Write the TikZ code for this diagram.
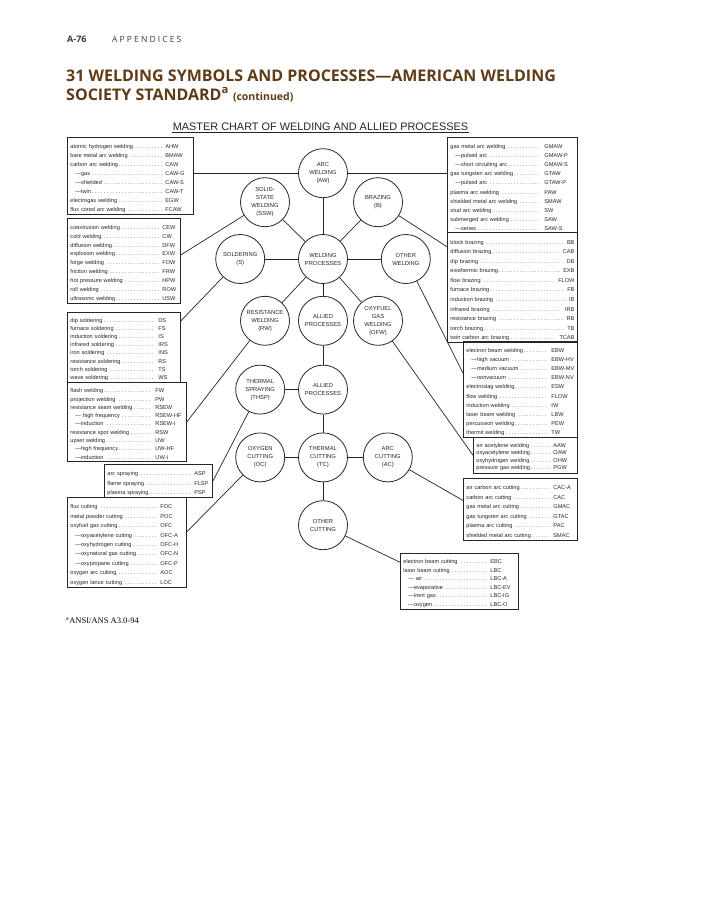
\documentclass[tikz,border=0pt]{standalone}
\usepackage{fontspec}
\setmainfont{Liberation Serif}
\newfontfamily\chartfont{Liberation Sans}
\newfontfamily\headfont{Open Sans}
\newfontfamily\spacedfont[LetterSpace=25]{Open Sans}
\usetikzlibrary{positioning}
\definecolor{titlebrown}{HTML}{5F3B17}
\definecolor{ink}{HTML}{262626}
\definecolor{headgray}{HTML}{3A3A3A}

\newlength\codew
\newcommand\leaderdots{\leaders\hbox to 3pt{\hss.\hss}\hfill}
\newcommand\ent[2]{\par\noindent\hbox to\hsize{#1\leaderdots\hskip1.5pt\hbox to\codew{#2\hss}}\par}
\newcommand\rent[2]{\par\noindent\hbox to\hsize{#1\leaderdots\hskip1.5pt#2}\par}
\newcommand\subent{\hspace*{5pt}\textemdash}

\tikzset{
  proc/.style={circle, draw=ink, line width=0.8pt, minimum size=49pt,
    inner sep=0pt, align=center, text=ink,
    font=\chartfont\fontsize{5.8}{8}\selectfont},
  listbox/.style n args={3}{rectangle, draw=ink, line width=0.9pt,
    anchor=north west, inner xsep=3pt, inner ysep=2pt, text width=#1,
    align=left, text=ink, font={\chartfont\fontsize{5.6}{#2}\selectfont},
    execute at begin node={\setlength\codew{#3}}},
  link/.style={draw=ink, line width=0.7pt},
}

\begin{document}
\begin{tikzpicture}[x=1pt, y=-1pt]
  \path[use as bounding box, fill=white] (0,0) rectangle (702,900);

  % page head
  \node[anchor=base west, inner sep=0pt, text=headgray, font=\headfont\bfseries\fontsize{9}{11}\selectfont] (pagenum) at (67,42) {A-76};
  \node[anchor=base west, inner sep=0pt, text=headgray, font=\spacedfont\fontsize{8.5}{11}\selectfont] (appx) at (112,42) {APPENDICES};
  \node[anchor=base west, inner sep=0pt, text=titlebrown, font=\headfont\bfseries\fontsize{16}{19}\selectfont] (title1) at (66,81) {31 WELDING SYMBOLS AND PROCESSES\textemdash AMERICAN WELDING};
  \node[anchor=base west, inner sep=0pt, text=titlebrown, font=\headfont\bfseries\fontsize{16}{19}\selectfont] (title2) at (66,100) {SOCIETY STANDARD\textsuperscript{a} {\fontsize{10.5}{12}\selectfont (continued)}};

  % chart title
  \node[anchor=base, inner sep=0pt, text=ink, font=\chartfont\fontsize{10.9}{13}\selectfont] (mtitle) at (320.5,130) {MASTER CHART OF WELDING AND ALLIED PROCESSES};
  \draw[ink, line width=0.8pt] ([shift={(-1pt,-2.2pt)}]mtitle.base west) -- ([shift={(1pt,-2.2pt)}]mtitle.base east);

  % process circles
  \node[proc] (wp) at (323,259) {WELDING\\PROCESSES};
  \node[proc, above=36pt of wp] (arc) {ARC\\WELDING\\(AW)};
  \node[proc, above=7pt of wp, xshift=-58pt] (ssw) {SOLID-\\STATE\\WELDING\\(SSW)};
  \node[proc, above=7pt of wp, xshift=55pt] (braz) {BRAZING\\(B)};
  \node[proc, left=33pt of wp] (sold) {SOLDERING\\(S)};
  \node[proc, right=33pt of wp] (oth) {OTHER\\WELDING};
  \node[proc, below=12pt of wp, xshift=-58pt] (rw) {RESISTANCE\\WELDING\\(RW)};
  \node[proc, below=12pt of wp] (all1) {ALLIED\\PROCESSES};
  \node[proc, below=12pt of wp, xshift=55pt] (ofw) {OXYFUEL\\GAS\\WELDING\\(OFW)};
  \node[proc, below=19pt of all1] (all2) {ALLIED\\PROCESSES};
  \node[proc, left=13pt of all2] (thsp) {THERMAL\\SPRAYING\\(THSP)};
  \node[proc, below=18pt of all2] (tc) {THERMAL\\CUTTING\\(TC)};
  \node[proc, left=13pt of tc] (oc) {OXYGEN\\CUTTING\\(OC)};
  \node[proc, right=15pt of tc] (ac) {ARC\\CUTTING\\(AC)};
  \node[proc, below=18pt of tc] (ocut) {OTHER\\CUTTING};

  % left lists
  \node[listbox={120pt}{9}{25pt}] (l1) at (67,137) {
    \ent{atomic hydrogen welding}{AHW}
    \ent{bare metal arc welding}{BMAW}
    \ent{carbon arc welding}{CAW}
    \ent{\subent gas}{CAW-G}
    \ent{\subent shielded}{CAW-S}
    \ent{\subent twin}{CAW-T}
    \ent{electrogas welding}{EGW}
    \ent{flux cored arc welding}{FCAW}};
  \node[listbox={107pt}{8.85}{15pt}] (l2) at (67,218) {
    \ent{coextrusion welding}{CEW}
    \ent{cold welding}{CW}
    \ent{diffusion welding}{DFW}
    \ent{explosion welding}{EXW}
    \ent{forge welding}{FOW}
    \ent{friction welding}{FRW}
    \ent{hot pressure welding}{HPW}
    \ent{roll welding}{ROW}
    \ent{ultrasonic welding}{USW}};
  \node[listbox={107pt}{8.1}{19pt}] (l3) at (67,312) {
    \ent{dip soldering}{DS}
    \ent{furnace soldering}{FS}
    \ent{induction soldering}{IS}
    \ent{infrared soldering}{IRS}
    \ent{iron soldering}{INS}
    \ent{resistance soldering}{RS}
    \ent{torch soldering}{TS}
    \ent{wave soldering}{WS}};
  \node[listbox={113pt}{8.3}{28pt}] (l4) at (67,382) {
    \ent{flash welding}{FW}
    \ent{projection welding}{PW}
    \ent{resistance seam welding}{RSEW}
    \ent{\subent\ high frequency}{RSEW-HF}
    \ent{\subent induction}{RSEW-I}
    \ent{resistance spot welding}{RSW}
    \ent{upset welding}{UW}
    \ent{\subent high frequency}{UW-HF}
    \ent{\subent induction}{UW-I}};
  \node[listbox={102pt}{9.35}{15pt}] (l5) at (104,464) {
    \ent{arc spraying}{ASP}
    \ent{flame spraying}{FLSP}
    \ent{plasma spraying}{PSP}};
  \node[listbox={113pt}{9.4}{23pt}] (l6) at (67,497) {
    \ent{flux cutting}{FOC}
    \ent{metal powder cutting}{POC}
    \ent{oxyfuel gas cutting}{OFC}
    \ent{\subent oxyacetylene cutting}{OFC-A}
    \ent{\subent oxyhydrogen cutting}{OFC-H}
    \ent{\subent oxynatural gas cutting}{OFC-N}
    \ent{\subent oxypropane cutting}{OFC-P}
    \ent{oxygen arc cutting}{AOC}
    \ent{oxygen lance cutting}{LOC}};

  % right lists
  \node[listbox={124pt}{9.1}{30pt}] (r1) at (447,137) {
    \ent{gas metal arc welding}{GMAW}
    \ent{\subent pulsed arc}{GMAW-P}
    \ent{\subent short circuiting arc}{GMAW-S}
    \ent{gas tungsten arc welding}{GTAW}
    \ent{\subent pulsed arc}{GTAW-P}
    \ent{plasma arc welding}{PAW}
    \ent{shielded metal arc welding}{SMAW}
    \ent{stud arc welding}{SW}
    \ent{submerged arc welding}{SAW}
    \ent{\subent series}{SAW-S}};
  \node[listbox={124pt}{9.57}{0pt}] (r2) at (447,232) {
    \rent{block brazing}{BB}
    \rent{diffusion brazing}{CAB}
    \rent{dip brazing}{DB}
    \rent{exothermic brazing}{EXB}
    \rent{flow brazing}{FLOW}
    \rent{furnace brazing}{FB}
    \rent{induction brazing}{IB}
    \rent{infrared brazing}{IRB}
    \rent{resistance brazing}{RB}
    \rent{torch brazing}{TB}
    \rent{twin carbon arc brazing}{TCAB}};
  \node[listbox={108pt}{9.1}{23pt}] (r3) at (463,341) {
    \ent{electron beam welding}{EBW}
    \ent{\subent high vacuum}{EBW-HV}
    \ent{\subent medium vacuum}{EBW-MV}
    \ent{\subent nonvacuum}{EBW-NV}
    \ent{electroslag welding}{ESW}
    \ent{flow welding}{FLOW}
    \ent{induction welding}{IW}
    \ent{laser beam welding}{LBW}
    \ent{percussion welding}{PEW}
    \ent{thermit welding}{TW}};
  \node[listbox={98pt}{7.6}{21pt}] (r4) at (473,437) {
    \ent{air acetylene welding}{AAW}
    \ent{oxyacetylene welding}{OAW}
    \ent{oxyhydrogen welding}{OHW}
    \ent{pressure gas welding}{PGW}};
  \node[listbox={108pt}{9.5}{21pt}] (r5) at (463,478) {
    \ent{air carbon arc cutting}{CAC-A}
    \ent{carbon arc cutting}{CAC}
    \ent{gas metal arc cutting}{GMAC}
    \ent{gas tungsten arc cutting}{GTAC}
    \ent{plasma arc cutting}{PAC}
    \ent{shielded metal arc cutting}{SMAC}};
  \node[listbox={112pt}{8.5}{25pt}] (r6) at (400,553) {
    \ent{electron beam cutting}{EBC}
    \ent{laser beam cutting}{LBC}
    \ent{\subent\ air}{LBC-A}
    \ent{\subent evaporative}{LBC-EV}
    \ent{\subent inert gas}{LBC-IG}
    \ent{\subent oxygen}{LBC-O}};

  % circle to circle
  \foreach \p in {arc,ssw,braz,sold,oth,rw,all1,ofw} {\draw[link] (wp) -- (\p);}
  \draw[link] (all1) -- (all2);
  \draw[link] (thsp) -- (all2);
  \draw[link] (all2) -- (tc);
  \draw[link] (oc) -- (tc);
  \draw[link] (tc) -- (ac);
  \draw[link] (tc) -- (ocut);

  % circle to list
  \draw[link] (l1.east |- arc) -- (arc);
  \draw[link] (arc) -- (r1.west |- arc);
  \draw[link] (l2.6) -- (ssw);
  \draw[link] (l3.25) -- (sold);
  \draw[link] (l4.east) -- (rw);
  \draw[link] (l5.east) -- (thsp);
  \draw[link] (l6.10) -- (oc);
  \draw[link] (braz) -- (r2.148);
  \draw[link] (oth) -- (r3.164);
  \draw[link] (ofw) -- (r4.west);
  \draw[link] (ac) -- (r5.171);
  \draw[link] (ocut) -- (r6.162);

  % footnote
  \node[anchor=base west, inner sep=0pt, font=\fontsize{8.5}{10}\selectfont] (note) at (66,623) {\textsuperscript{a}ANSI/ANS A3.0-94};
\end{tikzpicture}
\end{document}
